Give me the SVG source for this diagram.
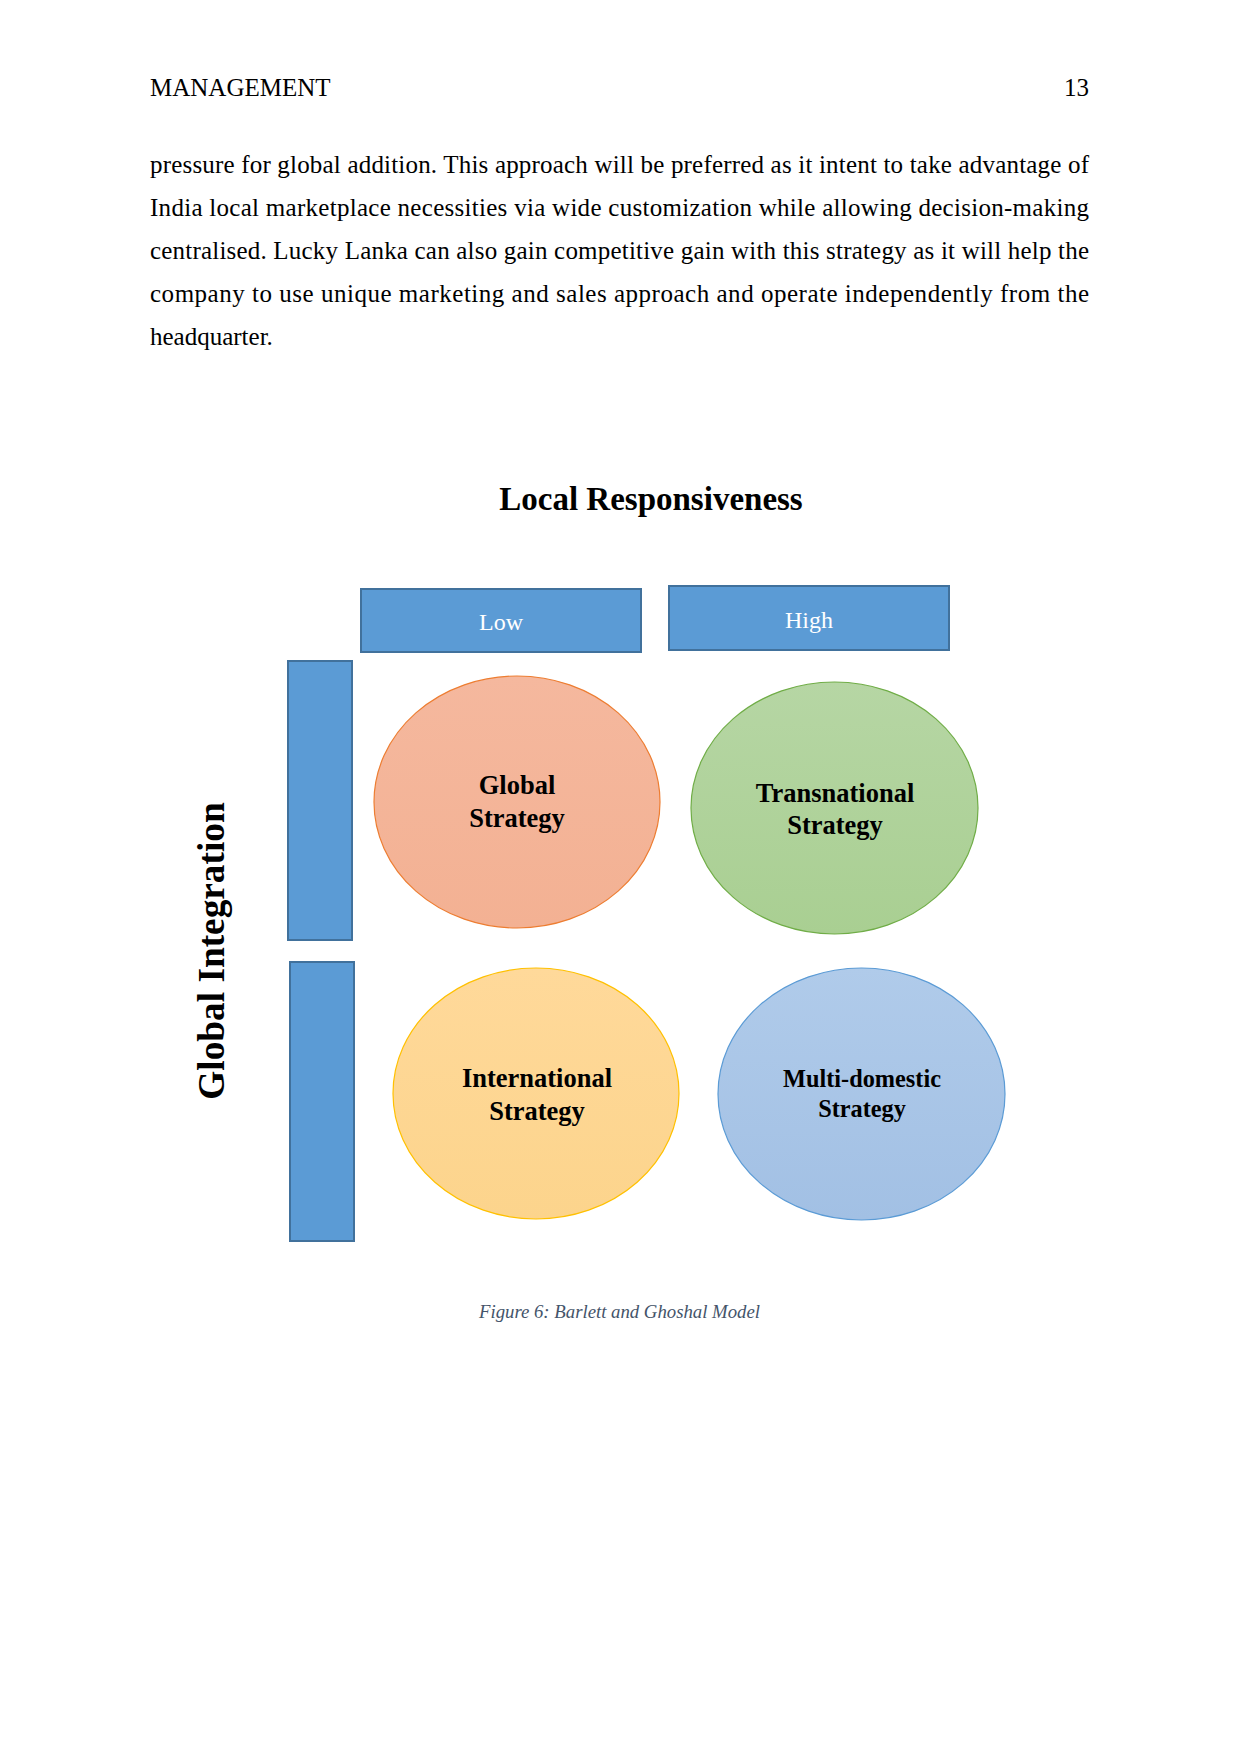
<svg xmlns="http://www.w3.org/2000/svg" width="1241" height="1754" viewBox="0 0 1241 1754">
<style>
.serif{font-family:"Liberation Serif","Times New Roman",serif;fill:#000}
.body{font-size:25px}
.bar{fill:#5B9BD5;stroke:#41719C;stroke-width:2}
.lbl{font-family:"Liberation Serif","Times New Roman",serif;font-size:24px;fill:#FFFFFF;text-anchor:middle}
.node{font-family:"Liberation Serif","Times New Roman",serif;font-weight:bold;font-size:26.5px;fill:#000;text-anchor:middle}
.node.sm{font-size:24.3px}
</style>
<defs>
<linearGradient id="gOr" x1="0" y1="0" x2="0" y2="1"><stop offset="0" stop-color="#F5B89E"/><stop offset="1" stop-color="#F3B193"/></linearGradient>
<linearGradient id="gGr" x1="0" y1="0" x2="0" y2="1"><stop offset="0" stop-color="#B6D6A4"/><stop offset="1" stop-color="#A9CF92"/></linearGradient>
<linearGradient id="gYe" x1="0" y1="0" x2="0" y2="1"><stop offset="0" stop-color="#FFD99A"/><stop offset="1" stop-color="#FCD48C"/></linearGradient>
<linearGradient id="gBl" x1="0" y1="0" x2="0" y2="1"><stop offset="0" stop-color="#B0CBEA"/><stop offset="1" stop-color="#A2C0E4"/></linearGradient>
</defs>
<rect width="1241" height="1754" fill="#FFFFFF"/>
<g id="header">
<text class="serif body" x="150" y="96">MANAGEMENT</text>
<text class="serif body" x="1089" y="96" text-anchor="end">13</text>
</g>
<g id="paragraph">
<text class="serif body" x="150" y="173" textLength="939" lengthAdjust="spacing">pressure for global addition. This approach will be preferred as it intent to take advantage of</text>
<text class="serif body" x="150" y="216" textLength="939" lengthAdjust="spacing">India local marketplace necessities via wide customization while allowing decision-making</text>
<text class="serif body" x="150" y="259" textLength="939" lengthAdjust="spacing">centralised. Lucky Lanka can also gain competitive gain with this strategy as it will help the</text>
<text class="serif body" x="150" y="302" textLength="939" lengthAdjust="spacing">company to use unique marketing and sales approach and operate independently from the</text>
<text class="serif body" x="150" y="345">headquarter.</text>
</g>
<g id="title">
<text class="serif" x="651" y="510" font-size="33" font-weight="bold" text-anchor="middle">Local Responsiveness</text>
</g>
<g id="axis-label">
<text class="serif" transform="translate(224,951) rotate(-90)" font-size="37.3" font-weight="bold" text-anchor="middle">Global Integration</text>
</g>
<g id="low">
<rect class="bar" x="361" y="589" width="280" height="63"/>
<text class="lbl" x="501" y="630">Low</text>
</g>
<g id="high">
<rect class="bar" x="669" y="586" width="280" height="64"/>
<text class="lbl" x="809" y="628">High</text>
</g>
<g id="bar-upper">
<rect class="bar" x="288" y="661" width="64" height="279"/>
</g>
<g id="bar-lower">
<rect class="bar" x="290" y="962" width="64" height="279"/>
</g>
<g id="global-strategy">
<ellipse cx="517" cy="802" rx="143" ry="126" fill="url(#gOr)" stroke="#ED7D31" stroke-width="1.2"/>
<text class="node" x="517" y="794">Global</text>
<text class="node" x="517" y="827">Strategy</text>
</g>
<g id="transnational-strategy">
<ellipse cx="834.5" cy="808" rx="143.5" ry="126" fill="url(#gGr)" stroke="#70AD47" stroke-width="1.2"/>
<text class="node" x="835" y="802">Transnational</text>
<text class="node" x="835" y="834">Strategy</text>
</g>
<g id="international-strategy">
<ellipse cx="536" cy="1093.5" rx="143" ry="125.5" fill="url(#gYe)" stroke="#FFC000" stroke-width="1.2"/>
<text class="node" x="537" y="1087">International</text>
<text class="node" x="537" y="1120">Strategy</text>
</g>
<g id="multi-domestic-strategy">
<ellipse cx="861.5" cy="1094" rx="143.5" ry="126" fill="url(#gBl)" stroke="#5B9BD5" stroke-width="1.2"/>
<text class="node sm" x="862" y="1087">Multi-domestic</text>
<text class="node sm" x="862" y="1117">Strategy</text>
</g>
<g id="connectors"></g>
<g id="caption">
<text x="619.5" y="1318" font-family="'Liberation Serif','Times New Roman',serif" font-style="italic" font-size="18.75" fill="#44546A" text-anchor="middle">Figure 6: Barlett and Ghoshal Model</text>
</g>
</svg>
